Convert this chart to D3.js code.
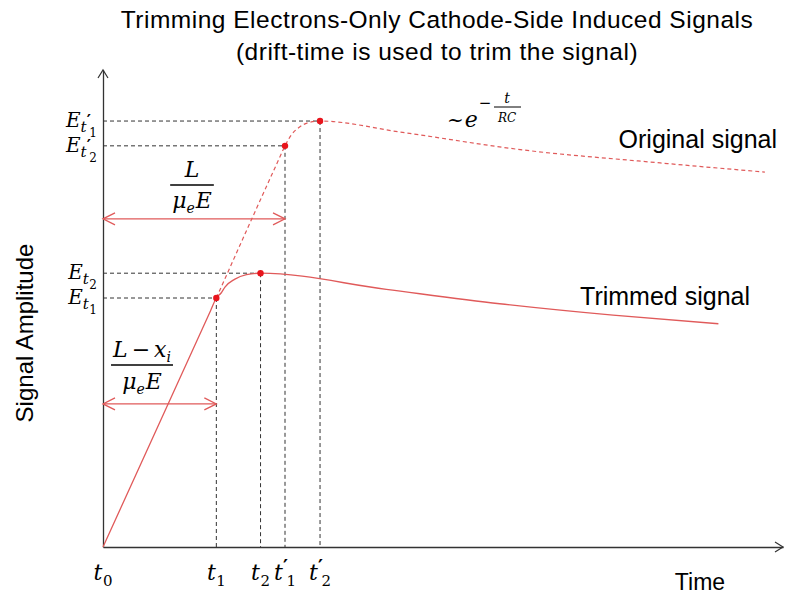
<!DOCTYPE html>
<html>
<head>
<meta charset="utf-8">
<script src="https://cdn.jsdelivr.net/npm/d3@7"></script>
<style>
  body { margin: 0; background: #fff; }
  text { font-family: "Liberation Sans", Arial, sans-serif; fill: #000; }
  text.math { font-family: "DejaVu Serif", "Liberation Serif", serif; }
  tspan.prime { font-family: "DejaVu Sans", sans-serif; font-weight: bold; }
</style>
</head>
<body>
<svg id="chart" width="786" height="595"></svg>
<script>
// ---- data (time in arbitrary units, amplitude in arbitrary units) ----
const timeMarks = [0, 1.0, 1.39, 1.606, 1.915];          // t0, t1, t2, t1', t2'
const timeMarkSubs = ["0", "1", "2", "1", "2"];
const timeMarkPrimes = [false, false, false, true, true];

const levelTimes = [1.915, 1.606, 1.39, 1.0];            // where each level is reached
const levelAmps = [8.93, 8.41, 5.74, 5.22];               // E_t1', E_t2', E_t2, E_t1
const levelSubs = ["1", "2", "2", "1"];
const levelPrimes = [true, true, false, false];

// trimmed signal (solid)
const trimmedT = [0, 0.95, 1.0, 1.044, 1.076, 1.16, 1.266, 1.39, 2.5, 3.5, 4.5, 5.43];
const trimmedA = [0, 4.96, 5.22, 5.33, 5.45, 5.61, 5.71, 5.74, 5.40, 5.10, 4.86, 4.68];

// original signal (dashed), continuing from t1
const originalT = [1.0, 1.55, 1.606, 1.662, 1.732, 1.816, 1.915, 2.62, 3.72, 4.83, 5.84];
const originalA = [5.22, 8.12, 8.41, 8.64, 8.80, 8.90, 8.93, 8.70, 8.32, 8.07, 7.86];

// drift-time arrows: end time and height
const arrowEnds = [timeMarks[3], timeMarks[1]];
const arrowLevels = [6.88, 3.0];

const titleLines = ["Trimming Electrons-Only Cathode-Side Induced Signals",
                    "(drift-time is used to trim the signal)"];

// ---- setup ----
const svg = d3.select("#chart");
const x = d3.scaleLinear().domain([0, 6]).range([103, 783]);
const y = d3.scaleLinear().domain([0, 10]).range([547, 70]);
const red = "#e05a5a";
const dotRed = "#e8141c";

// title
svg.selectAll("text.title").data(titleLines).join("text")
  .attr("class", "title")
  .attr("x", 437).attr("y", (d, i) => 28 + i * 32)
  .attr("text-anchor", "middle")
  .attr("font-size", 24.5)
  .style("letter-spacing", "0.5px")
  .text(d => d);

// axes (no ticks, only the lines) with open arrowheads
const xAxis = svg.append("g").attr("transform", `translate(0,${y(0)})`)
  .call(d3.axisBottom(x).tickValues([]).tickSizeOuter(0));
const yAxis = svg.append("g").attr("transform", `translate(${x(0)},0)`)
  .call(d3.axisLeft(y).tickValues([]).tickSizeOuter(0));
[xAxis, yAxis].forEach(a => a.select(".domain").attr("stroke", "#333").attr("stroke-width", 1.3));

svg.append("path")
  .attr("d", `M${x(6) - 8},${y(0) - 5}L${x(6)},${y(0)}L${x(6) - 8},${y(0) + 5}`)
  .attr("fill", "none").attr("stroke", "#333").attr("stroke-width", 1.2);
svg.append("path")
  .attr("d", `M${x(0) - 5},${y(10) + 8}L${x(0)},${y(10)}L${x(0) + 5},${y(10) + 8}`)
  .attr("fill", "none").attr("stroke", "#333").attr("stroke-width", 1.2);

// guide lines from each marked level to the axes
const guides = svg.append("g").attr("stroke", "#333").attr("stroke-width", 1)
  .attr("stroke-dasharray", "4,3").attr("fill", "none");
levelAmps.forEach((a, i) => {
  guides.append("line").attr("x1", x(0)).attr("x2", x(levelTimes[i]))
    .attr("y1", y(a)).attr("y2", y(a));
  guides.append("line").attr("x1", x(levelTimes[i])).attr("x2", x(levelTimes[i]))
    .attr("y1", y(a)).attr("y2", y(0));
});

// signals
const line = d3.line().x(d => x(d[0])).y(d => y(d[1])).curve(d3.curveMonotoneX);
svg.append("path")
  .attr("d", line(originalT.map((t, i) => [t, originalA[i]])))
  .attr("fill", "none").attr("stroke", red).attr("stroke-width", 1.2)
  .attr("stroke-dasharray", "4,3");
svg.append("path")
  .attr("d", line(trimmedT.map((t, i) => [t, trimmedA[i]])))
  .attr("fill", "none").attr("stroke", red).attr("stroke-width", 1.3);

// marked points
svg.selectAll("circle.mark").data(levelAmps).join("circle")
  .attr("class", "mark")
  .attr("cx", (d, i) => x(levelTimes[i])).attr("cy", d => y(d))
  .attr("r", 3.2).attr("fill", dotRed);

// double-headed drift-time arrows
arrowEnds.forEach((t, i) => {
  const yy = y(arrowLevels[i]), x0 = x(0), x1 = x(t);
  const g = svg.append("g").attr("fill", "none").attr("stroke", red).attr("stroke-width", 1.3);
  g.append("line").attr("x1", x0).attr("x2", x1).attr("y1", yy).attr("y2", yy);
  g.append("path").attr("d", `M${x0 + 12},${yy - 6}L${x0},${yy}L${x0 + 12},${yy + 6}`);
  g.append("path").attr("d", `M${x1 - 12},${yy - 6}L${x1},${yy}L${x1 - 12},${yy + 6}`);
});

// ---- math text helper: one <text> whose tspans are laid out left to right ----
function drawMath(parent, x0, y0, items, anchor) {
  const t = parent.append("text").attr("class", "math");
  let cx = 0, maxX = 0;
  const spans = [];
  items.forEach(it => {
    const px = cx + (it.dx || 0);
    const sp = t.append("tspan").attr("y", y0 + (it.dy || 0))
      .attr("font-size", it.size)
      .attr("font-style", it.italic === false ? "normal" : "italic")
      .attr("class", it.cls || null)
      .text(it.s);
    spans.push([sp, px]);
    cx = px + sp.node().getComputedTextLength();
    maxX = Math.max(maxX, cx);
  });
  const shift = anchor === "middle" ? maxX / 2 : anchor === "end" ? maxX : 0;
  spans.forEach(([sp, px]) => sp.attr("x", x0 - shift + px));
  return maxX;
}

// t with a subscript digit, and a prime tucked in above it when needed
function subscriptT(sub, prime, size, subSize, dyT, dyS) {
  const items = [{ s: "t", size: size, dy: dyT }];
  if (prime) items.push({ s: "′", size: subSize + 4, dy: dyS - subSize * 0.9, dx: 0,
                          italic: false, cls: "prime" });
  items.push({ s: sub, size: subSize, dy: dyS, italic: false, dx: prime ? -1.5 : 0.5 });
  return items;
}

// time labels under the axis
timeMarks.forEach((t, i) => {
  drawMath(svg, x(t), 580, subscriptT(timeMarkSubs[i], timeMarkPrimes[i], 22, 15, 0, 6), "middle");
});

// amplitude labels beside the axis
levelAmps.forEach((a, i) => {
  drawMath(svg, 97, y(a) + 6,
    [{ s: "E", size: 20 }].concat(subscriptT(levelSubs[i], levelPrimes[i], 15, 12, 5, 10)), "end");
});

// fractions
function fraction(cx, numItems, denItems, numBase, barY, denBase) {
  const w1 = drawMath(svg, cx, numBase, numItems, "middle");
  const w2 = drawMath(svg, cx, denBase, denItems, "middle");
  const w = Math.max(w1, w2) + 4;
  svg.append("line").attr("x1", cx - w / 2).attr("x2", cx + w / 2)
    .attr("y1", barY).attr("y2", barY).attr("stroke", "#000").attr("stroke-width", 1.4);
}
const muE = [{ s: "μ", size: 22 }, { s: "e", size: 14, dy: 5 }, { s: "E", size: 22, dx: 1 }];
fraction(192, [{ s: "L", size: 22 }], muE, 177, 185, 208);
fraction(142, [{ s: "L", size: 22 }, { s: "−", size: 22, italic: false, dx: 4 },
               { s: "x", size: 22, dx: 4 }, { s: "i", size: 14, dy: 5 }],
  muE, 357, 365, 389);

// exponential decay annotation
drawMath(svg, 447, 127, [{ s: "~", size: 20, italic: false }, { s: "e", size: 22, dx: 1 },
                         { s: "−", size: 15, italic: false, dx: 1, dy: -19 }], "start");
drawMath(svg, 507, 103, [{ s: "t", size: 14 }], "middle");
drawMath(svg, 507, 122, [{ s: "RC", size: 12 }], "middle");
svg.append("line").attr("x1", 494).attr("x2", 521).attr("y1", 107).attr("y2", 107)
  .attr("stroke", "#000").attr("stroke-width", 1);

// series labels and axis titles
svg.append("text").attr("x", 777).attr("y", 148).attr("text-anchor", "end")
  .attr("font-size", 25).text("Original signal");
svg.append("text").attr("x", 750).attr("y", 305).attr("text-anchor", "end")
  .attr("font-size", 25).text("Trimmed signal");
svg.append("text").attr("x", 700).attr("y", 590).attr("text-anchor", "middle")
  .attr("font-size", 23).text("Time");
svg.append("text").attr("transform", "translate(33,333) rotate(-90)")
  .attr("text-anchor", "middle").attr("font-size", 24).text("Signal Amplitude");
</script>
</body>
</html>
